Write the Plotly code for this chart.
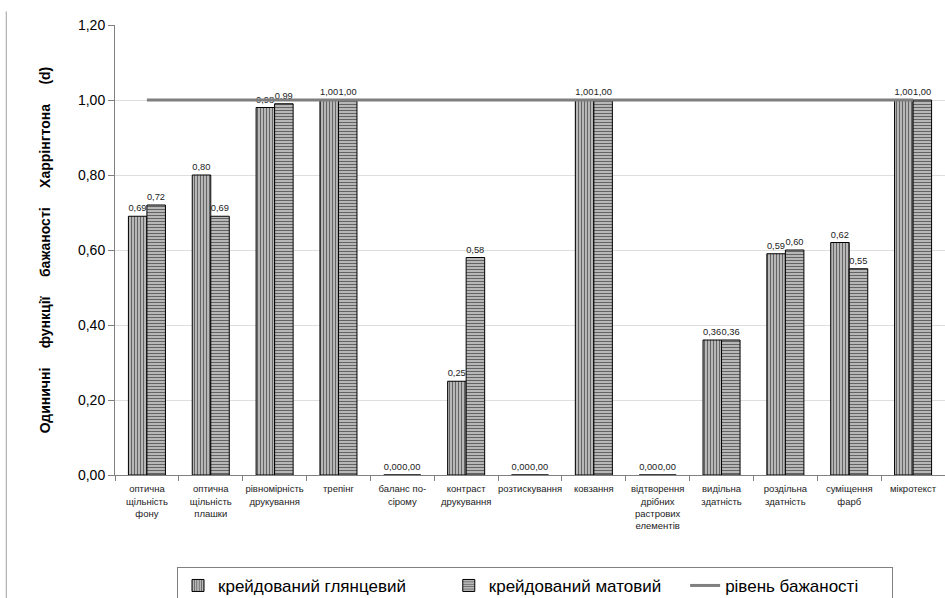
import plotly.graph_objects as go

categories = [
    "оптична<br>щільність<br>фону",
    "оптична<br>щільність<br>плашки",
    "рівномірність<br>друкування",
    "трепінг",
    "баланс по-<br>сірому",
    "контраст<br>друкування",
    "розтискування",
    "ковзання",
    "відтворення<br>дрібних<br>растрових<br>елементів",
    "видільна<br>здатність",
    "роздільна<br>здатність",
    "суміщення<br>фарб",
    "мікротекст",
]
glossy = [0.69, 0.80, 0.98, 1.00, 0.00, 0.25, 0.00, 1.00, 0.00, 0.36, 0.59, 0.62, 1.00]
matte = [0.72, 0.69, 0.99, 1.00, 0.00, 0.58, 0.00, 1.00, 0.00, 0.36, 0.60, 0.55, 1.00]
desire = [1.00] * len(categories)
y_ticks = [0.0, 0.2, 0.4, 0.6, 0.8, 1.0, 1.2]
series_names = ["крейдований глянцевий", "крейдований матовий", "рівень бажаності"]

FONT = "Liberation Sans, Arial, sans-serif"
NB = "\u00a0"

fig = go.Figure()
fig.add_trace(go.Bar(
    x=categories, y=glossy, name=series_names[0] + NB * 8,
    marker=dict(color="white", line=dict(color="black", width=1),
                pattern=dict(shape="|", fgcolor="#000000", bgcolor="#c8c8c8", size=3, solidity=0.45)),
    texttemplate="%{y:.2f}", textposition="outside", cliponaxis=False,
    textfont=dict(size=10, color="#222222", family=FONT),
))
fig.add_trace(go.Bar(
    x=categories, y=matte, name=series_names[1] + NB * 4,
    marker=dict(color="white", line=dict(color="black", width=1),
                pattern=dict(shape="-", fgcolor="#000000", bgcolor="#c8c8c8", size=3, solidity=0.45)),
    texttemplate="%{y:.2f}", textposition="outside", cliponaxis=False,
    textfont=dict(size=10, color="#222222", family=FONT),
))
fig.add_trace(go.Scatter(
    x=categories, y=desire, name=series_names[2] + NB * 6, mode="lines",
    line=dict(color="#7f7f7f", width=3),
))

fig.update_layout(
    width=945, height=598,
    margin=dict(l=115, r=0, t=25, b=123, autoexpand=False),
    paper_bgcolor="white", plot_bgcolor="white",
    separators=", ",
    barmode="group", bargap=0.42, bargroupgap=0.0,
    font=dict(family=FONT, color="#000000"),
    showlegend=True,
    legend=dict(
        orientation="h", xref="container", x=177 / 945, xanchor="left",
        yref="container", y=0.052, yanchor="top",
        bordercolor="#808080", borderwidth=1, bgcolor="white",
        font=dict(size=17, family=FONT),
        traceorder="normal",
    ),
    xaxis=dict(
        type="category", tickson="boundaries", ticks="outside", ticklen=5,
        tickcolor="#808080", showline=True, linecolor="#808080", linewidth=1,
        tickfont=dict(size=9.5, family=FONT, color="#222222"), tickangle=0,
        ticklabelstandoff=5,
        showgrid=False, range=[-0.5, 12.5],
    ),
    yaxis=dict(
        range=[0, 1.2], tickvals=y_ticks, tickformat=".2f",
        ticks="outside", ticklen=6, tickcolor="#808080",
        showline=True, linecolor="#808080", linewidth=1,
        showgrid=True, gridcolor="#dedede", gridwidth=1,
        tickfont=dict(size=14, family=FONT), zeroline=False,
        title=dict(
            text=("Одиничні" + NB*5 + "функції" + NB*5 + "бажаності" + NB*5 + "Харрінгтона" + NB*5 + "(d)"),
            font=dict(size=14, family=FONT, weight="bold"), standoff=24,
        ),
    ),
    shapes=[dict(type="line", xref="paper", yref="paper", x0=-0.131, x1=-0.131, y0=1.03, y1=-0.3,
                 line=dict(color="#a0a0a0", width=1))],
)

fig.write_html("out.html")
